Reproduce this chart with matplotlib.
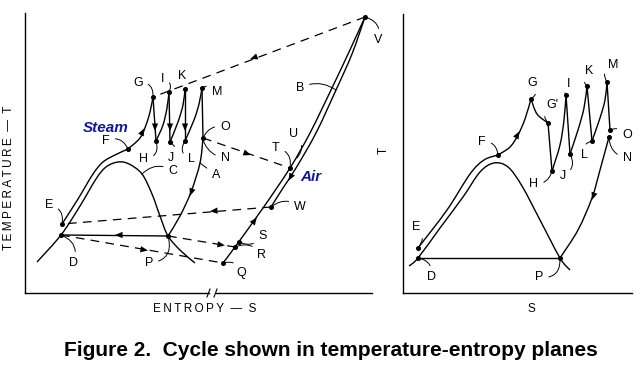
import numpy as np
import matplotlib.pyplot as plt
from matplotlib.path import Path
from matplotlib.patches import PathPatch

plt.rcParams['font.family'] = ['Liberation Sans', 'DejaVu Sans']

# state points, in pixel coordinates of the original figure (y down)
left_pts = {
    "V": (365, 17), "B": (336, 90), "U": (297, 158), "T": (290, 168),
    "W": (271, 207), "S": (239, 242), "R": (235, 247), "Q": (223, 263),
    "G": (153, 97), "H": (156, 141), "I": (169, 92), "J": (170, 142),
    "K": (185, 89), "L": (185, 141), "M": (202, 88), "O": (203, 138),
    "N": (203, 140), "A": (200, 163), "C": (142, 174), "F": (128, 149),
    "E": (62, 224), "D": (61, 235), "P": (168, 236),
}
right_pts = {
    "D": (418, 258), "E": (418, 248), "P": (560, 258), "F": (498, 155),
    "G": (531, 99), "G'": (548, 123), "H": (552, 171), "I": (566, 95),
    "J": (570, 154), "K": (587, 86), "L": (592, 141), "M": (607, 82),
    "O": (610, 130), "N": (609, 137),
}

# curves through the diagram
left_dome = [(37, 262), (61, 235), (80, 206), (96, 179), (106, 167), (118, 162),
             (129, 164), (142, 174), (152, 194), (160, 216), (168, 236),
             (181, 251), (195, 263)]
left_heat = [(62, 224), (78, 199), (93, 174), (103, 162), (115, 155), (128, 149)]
left_fg = [(128, 149), (140, 138), (146, 125), (150, 112), (153, 97)]
left_hi = [(156, 141), (163, 125), (167, 108), (169, 92)]
left_jk = [(170, 142), (178, 122), (183, 105), (185, 89)]
left_lm = [(185, 141), (194, 120), (199, 104), (202, 88)]
left_op = [(203, 138), (200, 163), (191, 192), (180, 216), (168, 236)]
air_inner = [(223, 263), (235, 247), (263, 208), (290, 168), (310, 133),
             (331, 90), (349, 52), (365, 17)]
air_outer = [(271, 207), (283, 188), (296, 168), (316, 133), (336, 90),
             (352, 54), (365, 17)]

right_dome = [(409, 266), (418, 258), (440, 228), (463, 197), (480, 172),
              (494, 163), (508, 167), (522, 186), (540, 220), (560, 258),
              (570, 270)]
right_heat = [(418, 248), (447, 210), (470, 174), (484, 160), (498, 155)]
right_fg = [(498, 155), (510, 147), (518, 135), (525, 119), (531, 99)]
right_gg = [(531, 99), (537, 114), (548, 123)]
right_hi = [(552, 171), (560, 145), (564, 120), (566, 95)]
right_jk = [(570, 154), (578, 130), (584, 108), (587, 86)]
right_lm = [(592, 141), (600, 118), (605, 100), (607, 82)]
right_np = [(609, 137), (600, 170), (592, 198), (578, 230), (560, 258)]


def smooth(pts):
    p = np.asarray(pts, float)
    verts, codes = [p[0]], [Path.MOVETO]
    n = len(p)
    for i in range(n - 1):
        p0 = p[i - 1] if i > 0 else p[i]
        p3 = p[i + 2] if i + 2 < n else p[i + 1]
        verts += [p[i] + (p[i + 1] - p0) / 6, p[i + 1] - (p3 - p[i]) / 6, p[i + 1]]
        codes += [Path.CURVE4] * 3
    return Path(verts, codes)


def spaced(word):
    return "\u2009".join(word)


fig = plt.figure(figsize=(6.4, 3.71), dpi=100)
ax = fig.add_axes([0, 0, 1, 1])
ax.set_xlim(0, 640)
ax.set_ylim(371, 0)
ax.axis('off')


def curve(pts, lw=1.0, ls='-'):
    ax.add_patch(PathPatch(smooth(pts), fill=False, ec='k', lw=lw, ls=ls))


def line(p, q, ls='-', lw=1.0):
    ax.plot([p[0], q[0]], [p[1], q[1]], color='k', lw=lw, ls=ls)


def arrow(x, y, dx, dy):
    d = np.hypot(dx, dy)
    ux, uy = dx / d, dy / d
    ax.annotate('', xy=(x + ux * 3, y + uy * 3), xytext=(x - ux * 3, y - uy * 3),
                arrowprops=dict(arrowstyle='-|>,head_length=0.6,head_width=0.25',
                                color='k', lw=0.01, shrinkA=0, shrinkB=0,
                                mutation_scale=9))


def label(name, pts, lx, ly, rad=0.4):
    ax.annotate(name, xy=pts[name], xytext=(lx, ly), ha='center', va='center',
                fontsize=9,
                arrowprops=dict(arrowstyle='-', lw=0.7, color='k', shrinkA=2,
                                shrinkB=0, connectionstyle='arc3,rad=%.2f' % rad))


dash = (0, (7, 5))

# ---- left panel
line((25, 13), (25, 293))
line((25, 293), (209, 293))
line((216, 293), (372, 293))
line((207, 297), (210, 289), lw=0.8)
line((214, 297), (217, 289), lw=0.8)

lp = left_pts
curve(left_dome)
curve(left_heat)
curve(left_fg)
curve(left_hi)
curve(left_jk)
curve(left_lm)
curve(left_op)
curve(air_inner)
curve(air_outer)
line(lp["G"], lp["H"])
line(lp["I"], lp["J"])
line(lp["K"], lp["L"])
line(lp["M"], lp["O"])
line(lp["P"], lp["D"])
line(lp["V"], lp["G"], ls=dash, lw=0.9)
line(lp["O"], lp["T"], ls=dash, lw=0.9)
line(lp["W"], lp["E"], ls=dash, lw=0.9)
line(lp["P"], lp["R"], ls=dash, lw=0.9)
line(lp["D"], lp["Q"], ls=dash, lw=0.9)

arrow(253, 58, -1, 0.38)
arrow(248, 154, 1, 0.36)
arrow(213, 211, -1, 0.08)
arrow(222, 245, 1, 0.16)
arrow(145, 250, 1, 0.17)
arrow(118, 235, -1, 0)
arrow(143, 131, 0.5, -1)
arrow(155, 128, 0, 1)
arrow(170, 128, 0, 1)
arrow(185, 128, 0, 1)
arrow(191, 193, -0.35, 1)
arrow(255, 220, 0.75, -1)
arrow(290, 178, -0.55, 1)

xs = [lp[k][0] for k in lp if k not in ("U", "A", "C", "N", "B")]
ys = [lp[k][1] for k in lp if k not in ("U", "A", "C", "N", "B")]
ax.plot(xs, ys, 'o', ms=2.6, color='k')

for name, lx, ly, rad in [
        ("V", 378, 40, 0.5), ("B", 300, 88, -0.3), ("U", 294, 134, -0.5),
        ("T", 276, 148, -0.5), ("W", 300, 207, 0.4), ("S", 263, 236, -0.4),
        ("R", 262, 255, 0.4), ("Q", 241, 273, 0.5), ("G", 138, 83, -0.6),
        ("I", 163, 79, -0.6), ("K", 182, 76, -0.6), ("M", 217, 92, 0.5),
        ("O", 225, 127, 0.4), ("N", 225, 158, -0.3), ("H", 144, 159, 0.6),
        ("J", 171, 158, 0.6), ("L", 191, 159, -0.6), ("A", 216, 175, 0.0),
        ("C", 173, 171, 0.4), ("F", 106, 141, -0.5), ("E", 49, 205, -0.5),
        ("D", 73, 263, 0.5), ("P", 149, 263, 0.6)]:
    label(name, lp, lx, ly, rad)

ax.text(106, 128, "Steam", fontsize=11, fontweight='bold', style='italic',
        color='#16198c', ha='center', va='center')
ax.text(311, 177, "Air", fontsize=11, fontweight='bold', style='italic',
        color='#16198c', ha='center', va='center')
ax.text(9, 178, spaced("TEMPERATURE") + "  \u2014  T", rotation=90, fontsize=8.5,
        ha='center', va='center')
ax.text(205, 309, spaced("ENTROPY") + "  \u2014  S", fontsize=8.5,
        ha='center', va='center')

# ---- right panel
line((403, 14), (403, 293))
line((403, 293), (632, 293))

rp = right_pts
curve(right_dome)
curve(right_heat)
curve(right_fg)
curve(right_gg)
curve(right_hi)
curve(right_jk)
curve(right_lm)
curve(right_np)
line(rp["G'"], rp["H"])
line(rp["I"], rp["J"])
line(rp["K"], rp["L"])
line(rp["M"], rp["O"])
line(rp["D"], rp["P"])

arrow(518, 134, 0.55, -1)
arrow(593, 197, -0.35, 1)

xs = [rp[k][0] for k in rp]
ys = [rp[k][1] for k in rp]
ax.plot(xs, ys, 'o', ms=2.6, color='k')

for name, lx, ly, rad in [
        ("G", 532, 83, -0.6), ("G'", 552, 105, 0.6), ("I", 569, 84, 0.5),
        ("K", 589, 71, 0.6), ("M", 613, 65, 0.6), ("O", 627, 135, 0.4),
        ("N", 627, 158, -0.4), ("L", 584, 155, -0.5), ("J", 563, 176, 0.5),
        ("H", 534, 184, 0.4), ("F", 482, 142, -0.5), ("E", 416, 227, -0.5),
        ("D", 431, 277, 0.5), ("P", 539, 277, 0.6)]:
    label(name, rp, lx, ly, rad)

ax.text(384, 150, "T", rotation=90, fontsize=8.5, ha='center', va='center')
ax.text(531, 309, "S", fontsize=8.5, ha='center', va='center')

ax.text(331, 350, "Figure 2.  Cycle shown in temperature-entropy planes",
        fontsize=15, fontweight='bold', ha='center', va='center')

fig.savefig("out.png", dpi=100)
